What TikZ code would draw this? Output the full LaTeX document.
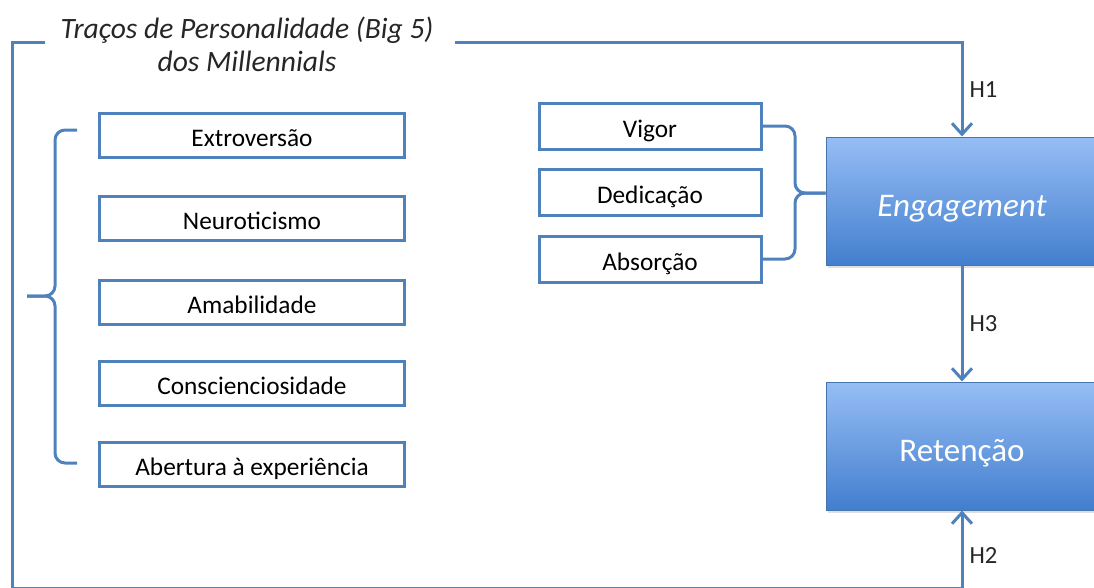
\documentclass[tikz,border=0pt]{standalone}
\usepackage{fontspec}
\setmainfont{Carlito}
\usetikzlibrary{arrows.meta,shadows}
\definecolor{lineblue}{RGB}{79,129,189}
\definecolor{boxtop}{RGB}{150,190,245}
\definecolor{boxbot}{RGB}{66,126,206}
\def\px{0.025cm}
\tikzset{
  link/.style={draw=lineblue, line width=3*\px},
  arrowlink/.style={link, -{Straight Barb[length=11*\px, width=20*\px, line width=3*\px]}},
  trait/.style={draw=lineblue, line width=3*\px, fill=white,
    minimum width=305*\px, minimum height=44*\px, font=\fontsize{18}{21}\selectfont,
    text height=16.5pt, text depth=0pt},
  facet/.style={trait, minimum width=222*\px, minimum height=46*\px},
  outcome/.style={draw=lineblue!90!black, line width=1*\px, top color=boxtop, bottom color=boxbot,
    minimum width=272*\px, minimum height=128*\px, text=white,
    font=\fontsize{23.5}{27}\selectfont, text height=21.5pt, text depth=0pt,
    drop shadow={opacity=0.25, shadow xshift=1.5*\px, shadow yshift=-2.5*\px}},
  hlabel/.style={right, text=black!85, font=\fontsize{17.5}{20}\selectfont, inner sep=6*\px}
}
\begin{document}
\begin{tikzpicture}[x=\px, y=-\px]
\useasboundingbox (0,0) rectangle (1094,587);

\node[align=center, font=\fontsize{21}{23.5}\selectfont\itshape, text=black!85] (title) at (247,44)
  {Traços de Personalidade (Big 5)\\dos Millennials};

\foreach \n/\t/\y in {ext/Extroversão/135, neu/Neuroticismo/218, ama/Amabilidade/302,
    con/Conscienciosidade/383, abe/Abertura à experiência/464}{
  \node[trait] (\n) at (252,\y) {\t};
}

\node[facet] (vig) at (650,126) {Vigor};
\node[facet] (ded) at (650,192) {Dedicação};
\node[facet] (abs) at (650,259) {Absorção};

\node[outcome] (eng) at (962,201) {\textit{Engagement}};
\node[outcome] (ret) at (962,446) {Retenção};

% chavetas
\coordinate (lbtop) at (77,130);
\coordinate (lbbot) at (77,463);
\coordinate (lbmid) at (55,296);
\coordinate (lbtip) at (27,296);
\draw[link, rounded corners=10*\px] (lbtop) -| (lbmid) -- (lbtip);
\draw[link, rounded corners=10*\px] (lbbot) -| (lbmid) -- (lbtip);

\coordinate (rbmid) at (795,193);
\coordinate (rbtip) at (eng.west |- rbmid);
\draw[link, rounded corners=10*\px] (vig.east) -| (rbmid) -- (rbtip);
\draw[link, rounded corners=10*\px] (abs.east) -| (rbmid) -- (rbtip);

% hipoteses
\coordinate (tl) at (45,42);
\coordinate (tr) at (455,42);
\coordinate (bl) at (12,588.3);
\draw[arrowlink] (tr) -| node[hlabel, pos=0.75] {H1} (eng.north);
\draw[arrowlink] (eng) -- node[hlabel] {H3} (ret);
\draw[arrowlink] (tl) -| (bl) -| node[hlabel, pos=0.71] {H2} (ret.south);

\end{tikzpicture}
\end{document}
